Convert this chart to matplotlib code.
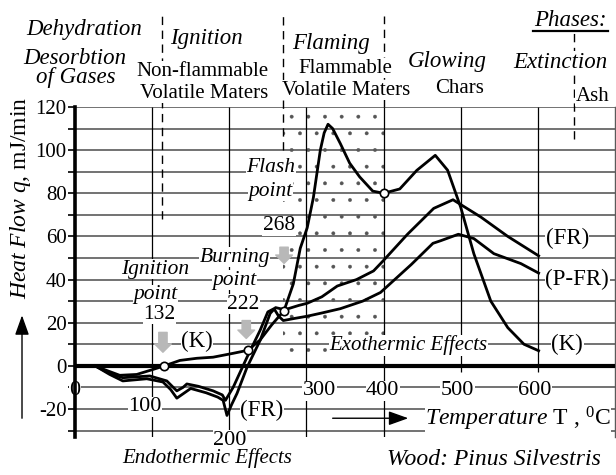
import numpy as np
import matplotlib
matplotlib.use('Agg')
import matplotlib.pyplot as plt

plt.rcParams['font.family'] = ['Liberation Serif', 'DejaVu Serif']
plt.rcParams['mathtext.fontset'] = 'custom'
plt.rcParams['mathtext.rm'] = 'Liberation Serif'
plt.rcParams['mathtext.it'] = 'Liberation Serif:italic'
plt.rcParams['axes.unicode_minus'] = False
plt.rcParams['hatch.linewidth'] = 0.3

# heat flow curves, temperature in C, q in mJ/min
k_T = [26, 40, 58, 80, 100, 116, 136, 158, 179, 205, 224, 240, 255, 271, 283, 292,
       301, 309, 318, 323, 328, 334, 344, 356, 369, 386, 400, 421, 443, 467, 483,
       500, 517, 539, 561, 582, 601]
k_q = [0, -2, -4.4, -4, -1.8, 0, 2.5, 3.5, 4, 5.8, 7.2, 12, 19, 25.6, 38, 54.5,
       64, 78, 100, 108, 112, 110, 103, 94, 87.6, 81, 80, 82, 90.6, 97.6, 90.7,
       73.5, 52, 30, 17.7, 10, 7]

fr_T = [26, 45, 62, 93, 114, 124, 132, 140, 150, 170, 185, 192, 197, 203, 210, 223,
        240, 253, 260, 266, 272, 290, 301, 320, 340, 365, 387, 399, 431, 465, 490,
        526, 561, 601]
fr_q = [0, -4, -7, -6, -7.5, -11, -15, -13, -10.5, -12.5, -14.5, -16, -23, -18,
        -12.8, -0.7, 11.8, 24.3, 27, 26.5, 26, 28, 29, 32, 37, 40, 44, 48.5, 61,
        73, 77, 69, 60, 51]

pfr_T = [26, 45, 62, 97, 119, 126, 132, 140, 145, 160, 179, 191, 195, 205, 223,
         240, 250, 258, 264, 270, 285, 301, 320, 344, 373, 396, 436, 464, 474, 497,
         517, 543, 578, 601]
pfr_q = [0, -3.5, -5.5, -4.7, -7, -9.5, -11.6, -10, -8.4, -9.5, -11.6, -13.5, -16,
         -10, 4, 16.5, 25, 26.5, 23, 21, 22, 23, 24.5, 26.5, 30, 34, 47, 56.8, 58,
         61, 59, 52, 47.4, 43]

# marked points on the K curve
pt_T = [116, 224, 271, 400]
pt_q = [0, 7.2, 25.6, 80]

y_ticks = [-20, 0, 20, 40, 60, 80, 100, 120]
x_ticks = [0, 100, 200, 300, 400, 500, 600]
x_tick_pos = [(0, -11.5), (91, -19), (201, -34.5), (317, -11.5), (399, -11.5),
              (496, -11.5), (596, -11.5)]

phase_T = [113, 270, 400, 647]
phase_span = [(68, 163), (100, 163), (120, 162), (105, 155)]

fig = plt.figure(figsize=(6.16, 4.75), dpi=100)
ax = fig.add_axes([75 / 616, 38 / 475, 540 / 616, 330 / 475])
ax.set_xlim(0, 700)
ax.set_ylim(-33, 120)

wb = dict(facecolor='white', edgecolor='none', pad=0.3)

# grid
for v in np.arange(-30, 121, 10):
    if v != 0:
        ax.axhline(v, color='#5a5a5a', lw=1.2, zorder=1)
ax.vlines([100, 200, 300, 400], -33, 120, color='black', lw=0.9, zorder=1)
ax.vlines([500, 600], -3, 120, color='black', lw=0.9, zorder=1)

# flaming zone
ax.fill_between([270, 400], 0, 120, facecolor='none', edgecolor='#555555',
                hatch='.', linewidth=0, zorder=0.5)

ax.axhline(0, color='black', lw=3, zorder=3)

for s in ['top', 'bottom']:
    ax.spines[s].set_visible(False)
ax.spines['left'].set_linewidth(2.6)
ax.spines['right'].set_color('#5a5a5a')
ax.spines['right'].set_linewidth(1)

ax.set_xticks([])
ax.set_yticks(y_ticks)
ax.set_yticks(np.arange(-30, 121, 10), minor=True)
ax.tick_params(axis='y', which='both', direction='out', length=5, width=1.2,
               labelsize=15, pad=1)

for t, (px, py) in zip(x_ticks, x_tick_pos):
    ax.text(px, py, str(t), fontsize=16, ha='center', va='center', bbox=wb, zorder=2)

# phase boundaries
for t, (a, b) in zip(phase_T, phase_span):
    ax.plot([t, t], [a, b], color='black', lw=1, ls=(0, (6, 4)), clip_on=False, zorder=1)

# curves
ax.plot(k_T, k_q, color='black', lw=2, zorder=4)
ax.plot(fr_T, fr_q, color='black', lw=2, zorder=4)
ax.plot(pfr_T, pfr_q, color='black', lw=2, zorder=4)
ax.plot(pt_T, pt_q, 'o', mfc='white', mec='black', ms=6, mew=1.2, zorder=5)

# phase titles above the plot
top = dict(ha='center', va='center', clip_on=False, zorder=2)
ax.text(12, 156, 'Dehydration', fontsize=16.5, style='italic', **top)
ax.text(0, 142.6, 'Desorbtion', fontsize=16.5, style='italic', **top)
ax.text(1.5, 133.7, 'of Gases', fontsize=16.5, style='italic', **top)
ax.text(171, 151.8, 'Ignition', fontsize=16.5, style='italic', **top)
ax.text(165, 136.5, 'Non-flammable', fontsize=15, bbox=wb, **top)
ax.text(167, 126.3, 'Volatile Maters', fontsize=15, bbox=wb, **top)
ax.text(332, 149.5, 'Flaming', fontsize=16.5, style='italic', **top)
ax.text(350, 137.9, 'Flammable', fontsize=15, bbox=wb, **top)
ax.text(352, 127.7, 'Volatile Maters', fontsize=15, bbox=wb, **top)
ax.text(482, 141.2, 'Glowing', fontsize=16.5, style='italic', **top)
ax.text(498, 128.7, 'Chars', fontsize=15, **top)
ax.text(629, 140.7, 'Extinction', fontsize=16.5, style='italic', bbox=wb, **top)
ax.text(671, 124.9, 'Ash', fontsize=15, bbox=wb, **top)
ax.text(642, 160.2, 'Phases:', fontsize=16.5, style='italic', **top)
ax.plot([594, 691], [155.3, 155.3], color='black', lw=1.6, clip_on=False)

# annotations inside
ins = dict(ha='center', va='center', bbox=wb, zorder=3.5)
ax.text(254, 92, 'Flash', fontsize=15.5, style='italic', **ins)
ax.text(253, 80.9, 'point', fontsize=15.5, style='italic', **ins)
ax.text(264.5, 65, '268', fontsize=15.5, **ins)
ax.text(207, 50.3, 'Burning', fontsize=15.5, style='italic', **ins)
ax.text(207, 39.6, 'point', fontsize=15.5, style='italic', **ins)
ax.text(218, 28.5, '222', fontsize=15.5, **ins)
ax.text(104, 44.7, 'Ignition', fontsize=15.5, style='italic', **ins)
ax.text(104, 33.1, 'point', fontsize=15.5, style='italic', **ins)
ax.text(109, 23.9, '132', fontsize=15.5, **ins)
ax.text(158, 11.3, '(K)', fontsize=16.5, **ins)
ax.text(242, -20.6, '(FR)', fontsize=16.5, **ins)
ax.text(638, 59, '(FR)', fontsize=16.5, **ins)
ax.text(651, 40.1, '(P-FR)', fontsize=16.5, **ins)
ax.text(638, 10, '(K)', fontsize=16.5, **ins)
ax.text(432, 9.5, 'Exothermic Effects', fontsize=15, style='italic', **ins)

# gray pointers to the marked points
gray = dict(arrowstyle='simple,head_length=0.6,head_width=1.2,tail_width=0.6',
            color='#b8b8b8', shrinkA=0, shrinkB=0)
for t, a, b in [(114, 15.5, 6.3), (222, 21, 12.7), (271, 55, 47.5)]:
    ax.annotate('', xy=(t, b), xytext=(t, a), arrowprops=gray, zorder=3.6)

# axis titles
ax.text(454, -24.8, r'$\mathit{Temperature}$ T , $^0$C', fontsize=17, ha='left',
        va='center', bbox=wb, zorder=3.5)
blk = dict(arrowstyle='-|>,head_length=1.2,head_width=0.43', color='black', lw=1,
           shrinkA=0, shrinkB=0)
ax.annotate('', xy=(432, -24.3), xytext=(334, -24.3), arrowprops=blk, zorder=3.6)
ax.annotate('', xy=(-68.7, 23.4), xytext=(-68.7, -24.3), arrowprops=blk,
            annotation_clip=False)
ax.text(-70, 78, r'$\mathit{Heat\ Flow\ q}$, mJ/min', fontsize=17, rotation=90,
        ha='center', va='center', clip_on=False)
ax.text(171, -42.9, 'Endothermic Effects', fontsize=15, style='italic', ha='center',
        va='center', clip_on=False)
ax.text(543, -43.3, 'Wood: Pinus Silvestris', fontsize=17, style='italic',
        ha='center', va='center', clip_on=False)

fig.savefig('out.png', dpi=100)
